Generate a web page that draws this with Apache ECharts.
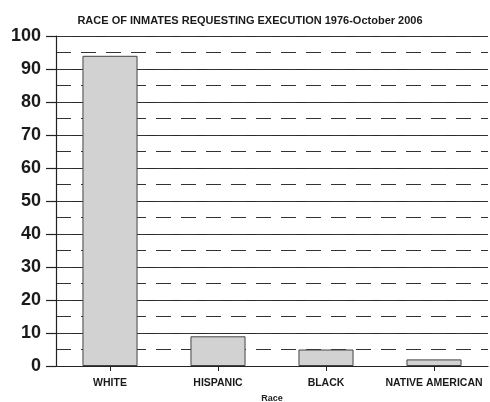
<!DOCTYPE html>
<html>
<head>
<meta charset="utf-8">
<script src="https://cdn.jsdelivr.net/npm/echarts@6/dist/echarts.min.js"></script>
<style>
  html, body { margin: 0; padding: 0; background: #fff; }
  #chart { width: 490px; height: 402px; }
</style>
</head>
<body>
<div id="chart"></div>
<script>
// Inmates requesting execution, by race (1976 - October 2006)
var categories = ['WHITE', 'HISPANIC', 'BLACK', 'NATIVE AMERICAN'];
var counts = [94, 9, 5, 2];
var yTicks = [0, 10, 20, 30, 40, 50, 60, 70, 80, 90, 100];

var chart = echarts.init(document.getElementById('chart'));
var font = 'Liberation Sans, Arial, sans-serif';

chart.setOption({
  animation: false,
  backgroundColor: '#ffffff',
  title: {
    text: 'RACE OF INMATES REQUESTING EXECUTION 1976-October 2006',
    left: 245,
    textAlign: 'center',
    top: 10,
    textStyle: { fontFamily: font, fontSize: 11, fontWeight: 'bold', color: '#1a1a1a' }
  },
  grid: { left: 56, right: 2, top: 36, bottom: 36, containLabel: false, outerBoundsMode: 'none' },
  xAxis: {
    type: 'category',
    data: categories,
    name: 'Race',
    nameLocation: 'middle',
    nameGap: 26,
    nameTextStyle: { fontFamily: font, fontSize: 9, fontWeight: 'bold', color: '#222' },
    axisLine: { lineStyle: { color: '#222', width: 1.2 } },
    axisTick: { show: true, alignWithLabel: true, length: 5, lineStyle: { color: '#222' } },
    axisLabel: { fontFamily: font, fontSize: 10.5, fontWeight: 'bold', color: '#1a1a1a', margin: 12, interval: 0 }
  },
  yAxis: [
    {
      type: 'value',
      min: 0,
      max: 100,
      interval: 10,
      axisLine: { show: true, lineStyle: { color: '#222', width: 1.2 } },
      axisTick: { show: true, length: 10, lineStyle: { color: '#222', width: 1.2 } },
      axisLabel: {
        fontFamily: font, fontSize: 18, fontWeight: 'bold', color: '#1a1a1a', margin: 15,
        formatter: function (v) { return yTicks.indexOf(v) >= 0 ? String(v) : ''; }
      },
      splitLine: { show: true, lineStyle: { color: '#2a2a2a', width: 1.2, type: 'solid' } }
    },
    {
      // half-step guides, dashed
      type: 'value',
      min: 0,
      max: 100,
      interval: 5,
      position: 'left',
      axisLine: { show: false },
      axisTick: { show: false },
      axisLabel: { show: false },
      splitLine: { show: true, lineStyle: { color: '#333', width: 1.2, type: [15, 10] } }
    }
  ],
  series: [{
    type: 'bar',
    data: counts,
    yAxisIndex: 0,
    barWidth: '51%',
    z: 5,
    itemStyle: { color: '#d2d2d2', borderColor: '#444', borderWidth: 1 }
  }]
});
</script>
</body>
</html>
